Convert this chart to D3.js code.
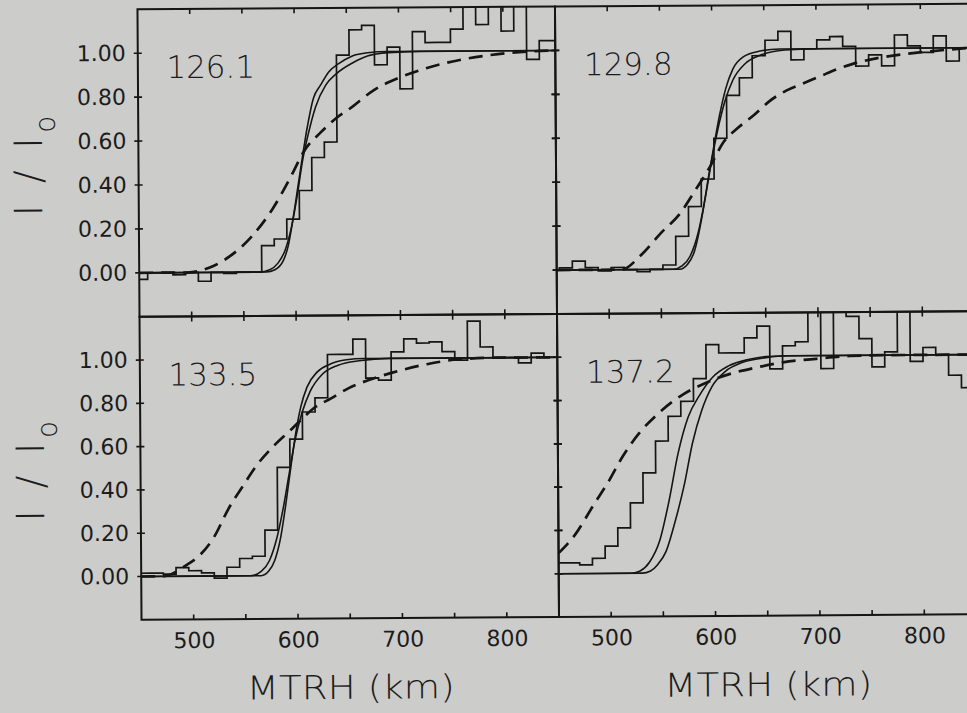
<!DOCTYPE html>
<html>
<head>
<meta charset="utf-8">
<script src="https://cdn.jsdelivr.net/npm/d3@7"></script>
<style>
  html, body { margin: 0; padding: 0; background: #cccccb; }
  svg { display: block; }
  text { font-family: "DejaVu Sans", sans-serif; fill: #1c1c1c; }
</style>
</head>
<body>
<svg id="chart" width="967" height="713"></svg>
<script>
// ---- data ----
const panelLabels = ["126.1", "129.8", "133.5", "137.2"];
const xTicks = [500, 550, 600, 650, 700, 750, 800];
const yTicks = [0, 0.2, 0.4, 0.6, 0.8, 1.0];

// histogram bins: first bin edge (km), bin width (km), then bin values
const binStart = [445.9, 440.2, 446.8, 445.7];
const binWidth = [12.15, 12.4, 12.2, 12.23];

const hist1261 = [-0.03, 0.0, 0.0, -0.01, 0.0, -0.04, 0.0, -0.005, 0.0, 0.0, 0.12, 0.15, 0.24, 0.37, 0.52, 0.59,
  0.985, 1.10, 1.12, 0.94, 1.02, 0.83, 1.09, 1.04, 1.04, 1.10, 1.30, 1.12, 1.30, 1.09, 1.30, 0.96, 1.045, 1.045];
const hist1298 = [0.0, 0.01, 0.04, 0.01, -0.005, 0.01, 0.0, -0.01, 0.0, 0.02, 0.15, 0.285, 0.41, 0.595, 0.79, 0.87,
  0.97, 1.04, 1.08, 0.95, 1.0, 1.04, 1.055, 1.01, 0.92, 0.97, 0.92, 1.06, 1.01, 0.98, 1.055, 0.94, 1.0, 1.0];
const hist1335 = [0.015, 0.015, 0.01, 0.04, 0.025, 0.015, -0.01, 0.04, 0.08, 0.09, 0.21, 0.50, 0.63, 0.755, 0.82, 1.02,
  1.02, 1.09, 0.91, 0.90, 1.03, 1.09, 1.07, 1.075, 1.03, 0.99, 1.17, 1.05, 1.0, 1.0, 0.975, 1.02, 1.0, 1.0];
const hist1372 = [0.05, 0.05, 0.04, 0.07, 0.126, 0.21, 0.325, 0.463, 0.61, 0.724, 0.793, 0.897, 1.054, 1.015, 1.015, 1.084,
  1.138, 0.94, 1.046, 1.064, 1.30, 0.94, 1.30, 1.18, 1.077, 0.946, 1.015, 1.30, 0.97, 1.034, 1.0, 0.905, 0.847, 0.847];

// two solid model curves per panel, [km, I/Io]
const steep1261 = [[450, 0], [572, 0], [580, 0.01], [588, 0.05], [593, 0.12], [598, 0.25], [603, 0.4], [607, 0.52],
  [612, 0.66], [618, 0.79], [625, 0.85], [633, 0.91], [642, 0.945], [655, 0.98], [670, 0.995], [690, 1], [850, 1]];
const wide1261 = [[450, 0], [565, 0], [575, 0.01], [583, 0.04], [590, 0.1], [596, 0.2], [602, 0.35], [607, 0.5],
  [613, 0.63], [620, 0.75], [630, 0.85], [640, 0.9], [656, 0.95], [670, 0.98], [690, 0.995], [720, 1], [850, 1]];
const steep1298 = [[450, 0], [568, 0], [575, 0.02], [582, 0.08], [590, 0.25], [596, 0.42], [601, 0.55], [607, 0.7],
  [613, 0.82], [620, 0.91], [630, 0.965], [645, 0.99], [665, 1], [850, 1]];
const wide1298 = [[450, 0], [562, 0], [570, 0.015], [578, 0.06], [586, 0.17], [593, 0.33], [599, 0.49], [605, 0.63],
  [612, 0.76], [620, 0.86], [632, 0.935], [648, 0.975], [670, 0.995], [700, 1], [850, 1]];
const steep1335 = [[450, 0], [565, 0], [572, 0.02], [578, 0.07], [584, 0.18], [589, 0.33], [594, 0.5], [599, 0.66],
  [604, 0.78], [610, 0.87], [620, 0.94], [632, 0.975], [648, 0.995], [665, 1], [850, 1]];
const wide1335 = [[450, 0], [555, 0], [565, 0.02], [573, 0.07], [580, 0.17], [586, 0.3], [592, 0.46], [598, 0.62],
  [605, 0.75], [613, 0.85], [625, 0.93], [640, 0.97], [660, 0.99], [690, 1], [850, 1]];
const steep1372 = [[450, 0], [530, 0], [538, 0.01], [545, 0.04], [553, 0.1], [562, 0.24], [571, 0.41], [579, 0.6],
  [588, 0.75], [598, 0.86], [611, 0.93], [627, 0.97], [650, 0.992], [670, 1], [850, 1]];
const wide1372 = [[450, 0], [520, 0], [528, 0.01], [537, 0.05], [547, 0.15], [556, 0.33], [565, 0.55], [575, 0.72],
  [586, 0.82], [598, 0.9], [614, 0.955], [634, 0.985], [650, 0.997], [680, 1], [850, 1]];

// dashed curve per panel
const dash1261 = [[450, 0], [496, 0], [520, 0.027], [537, 0.073], [557, 0.157], [578, 0.286], [598, 0.453], [608, 0.544],
  [625, 0.635], [639, 0.696], [653, 0.742], [676, 0.825], [700, 0.88], [727, 0.924], [761, 0.962], [795, 0.985], [830, 0.997], [850, 1]];
const dash1298 = [[450, 0], [512, 0], [531, 0.066], [550, 0.165], [569, 0.257], [582, 0.35], [598, 0.47], [611, 0.58],
  [624, 0.64], [640, 0.70], [655, 0.763], [671, 0.81], [687, 0.842], [703, 0.873], [719, 0.905], [735, 0.93], [767, 0.962], [799, 0.98], [850, 1]];
const dash1335 = [[450, 0], [470, 0], [476, 0.005], [493, 0.05], [507, 0.1], [520, 0.18], [534, 0.31], [548, 0.415],
  [561, 0.508], [578, 0.6], [592, 0.663], [602, 0.709], [616, 0.771], [633, 0.817], [650, 0.864], [670, 0.902],
  [691, 0.933], [725, 0.972], [759, 0.995], [793, 1], [850, 1]];
const dash1372 = [[450, 0.095], [467, 0.187], [483, 0.31], [499, 0.43], [512, 0.54], [528, 0.647], [547, 0.74],
  [570, 0.824], [592, 0.877], [614, 0.916], [640, 0.946], [666, 0.97], [698, 0.985], [730, 0.997], [762, 1], [850, 1]];

// ---- layout ----
const LEFT = 139.5, PW = 417.5, TOP = 7, MID = 314.5, BOT = 617.5;
const ink = "#151515";

const panels = [
  { label: panelLabels[0], col: 0, row: 0, hist: hist1261, s: steep1261, w: wide1261, d: dash1261 },
  { label: panelLabels[1], col: 1, row: 0, hist: hist1298, s: steep1298, w: wide1298, d: dash1298 },
  { label: panelLabels[2], col: 0, row: 1, hist: hist1335, s: steep1335, w: wide1335, d: dash1335 },
  { label: panelLabels[3], col: 1, row: 1, hist: hist1372, s: steep1372, w: wide1372, d: dash1372 }
];

const svg = d3.select("#chart");
// the scan sits slightly tilted on the page
const root = svg.append("g").attr("transform", "rotate(-0.38, 483, 314)");

const x = d3.scaleLinear().domain([450, 850]).range([0, PW]);

panels.forEach((p, i) => {
  const x0 = LEFT + p.col * PW;
  const y0 = p.row === 0 ? TOP : MID;
  const y1 = p.row === 0 ? MID : BOT;
  const y = d3.scaleLinear().domain([-0.2, 1.2]).range([y1 - y0, 0]);

  const g = root.append("g").attr("transform", `translate(${x0},${y0})`);

  g.append("clipPath").attr("id", "clip" + i)
    .append("rect").attr("width", PW).attr("height", y1 - y0);

  const plot = g.append("g").attr("clip-path", `url(#clip${i})`);

  // histogram as a step line
  const edges = p.hist.map((v, k) => [binStart[i] + k * binWidth[i], v]);
  edges.push([binStart[i] + p.hist.length * binWidth[i], p.hist[p.hist.length - 1]]);
  const step = d3.line().x(d => x(d[0])).y(d => y(d[1])).curve(d3.curveStepAfter);
  plot.append("path").attr("d", step(edges))
    .attr("fill", "none").attr("stroke", ink).attr("stroke-width", 1.7);

  const smooth = d3.line().x(d => x(d[0])).y(d => y(d[1])).curve(d3.curveMonotoneX);
  [p.s, p.w].forEach(c => {
    plot.append("path").attr("d", smooth(c))
      .attr("fill", "none").attr("stroke", ink).attr("stroke-width", 1.6);
  });
  plot.append("path").attr("d", smooth(p.d))
    .attr("fill", "none").attr("stroke", ink).attr("stroke-width", 2.7)
    .attr("stroke-dasharray", "14,8");

  // frame
  g.append("rect").attr("width", PW).attr("height", y1 - y0)
    .attr("fill", "none").attr("stroke", ink).attr("stroke-width", 2);

  // inward x ticks on top and bottom edges
  xTicks.forEach(t => {
    g.append("line").attr("x1", x(t)).attr("x2", x(t)).attr("y1", 0).attr("y2", 5)
      .attr("stroke", ink).attr("stroke-width", 1.6);
    g.append("line").attr("x1", x(t)).attr("x2", x(t)).attr("y1", y1 - y0).attr("y2", y1 - y0 - 5)
      .attr("stroke", ink).attr("stroke-width", 1.6);
  });
  // y ticks crossing left and right edges
  yTicks.forEach(t => {
    [0, PW].forEach(ex => {
      g.append("line").attr("x1", ex - 4).attr("x2", ex + 4).attr("y1", y(t)).attr("y2", y(t))
        .attr("stroke", ink).attr("stroke-width", 1.6);
    });
  });

  // y axis labels on the left column
  if (p.col === 0) {
    const ay = g.append("g").call(d3.axisLeft(y).tickValues(yTicks).tickFormat(d3.format(".2f"))
      .tickSize(4).tickPadding(8));
    ay.select(".domain").remove();
    ay.selectAll("line").remove();
    ay.selectAll("text").attr("font-size", 22).attr("font-family", "DejaVu Sans").attr("fill", "#1c1c1c");

    const yt = g.append("text")
      .attr("transform", `translate(${43 - x0},${(y1 - y0) / 2 + 52.5}) rotate(-90)`)
      .attr("font-size", 39).attr("letter-spacing", 4.5).attr("font-weight", 300)
      .text("I / I");
    yt.append("tspan").attr("font-size", 28).attr("dy", 13).text("o");
  }

  // x axis labels on the bottom row
  if (p.row === 1) {
    const ax = g.append("g").attr("transform", `translate(0,${y1 - y0})`)
      .call(d3.axisBottom(x).tickValues(xTicks).tickFormat(d => d % 100 === 0 ? d : "")
        .tickSize(0).tickPadding(13));
    ax.select(".domain").remove();
    ax.selectAll("text").attr("font-size", 22).attr("font-family", "DejaVu Sans").attr("fill", "#1c1c1c");

    g.append("text").attr("x", PW / 2).attr("y", 698 - y0)
      .attr("text-anchor", "middle").attr("font-size", 33).attr("font-weight", 300)
      .attr("textLength", 208).attr("lengthAdjust", "spacingAndGlyphs")
      .text("MTRH (km)");
  }

  // panel label
  g.append("text").attr("x", 28.5).attr("y", 69)
    .attr("font-size", 31).attr("font-weight", 300)
    .text(p.label);
});
</script>
</body>
</html>
